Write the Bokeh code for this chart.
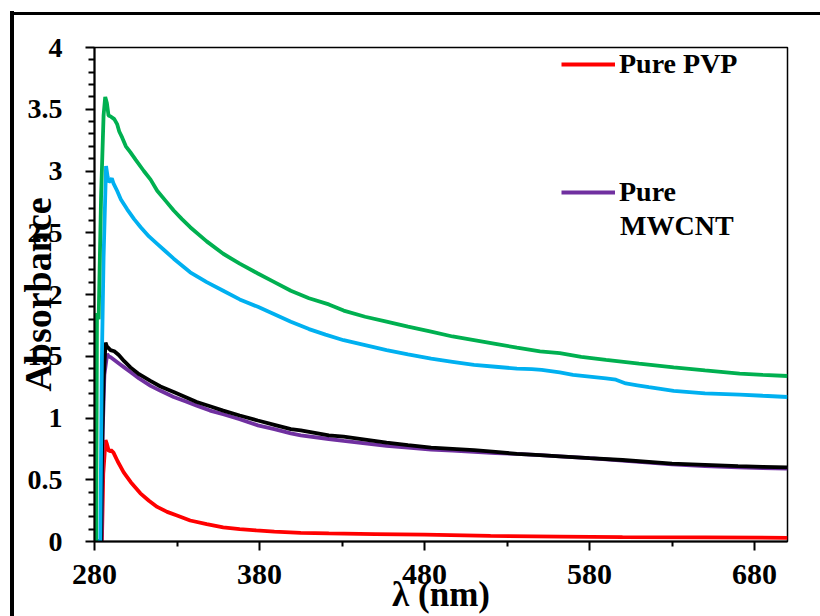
from bokeh.plotting import figure
from bokeh.models import Legend, LegendItem, Label, FixedTicker, Range1d
from bokeh.embed import file_html
from bokeh.resources import INLINE

# ---- data ----
pvp_x = [280, 284.5, 285.3, 286.7, 287.5, 288.7, 290, 291.5, 294, 297.7, 302, 307.8, 313, 318, 324, 330,
         338, 348, 358, 368, 378, 389, 405, 422, 450, 480, 520, 562, 600, 650, 700]
pvp_y = [0, 0, 0.55, 0.82, 0.79, 0.73, 0.74, 0.72, 0.65, 0.56, 0.48, 0.39, 0.33, 0.28, 0.24, 0.21,
         0.17, 0.14, 0.115, 0.10, 0.09, 0.08, 0.07, 0.065, 0.06, 0.055, 0.045, 0.04, 0.035, 0.033, 0.03]

mwcnt_x = [280, 284.3, 285, 286, 287.7, 288.5, 290, 292, 295, 298, 302, 307, 314, 320, 328, 335, 342,
           350, 358, 368, 379, 389, 399, 405, 422, 431, 444, 457, 470, 484, 497, 510, 523, 536, 550,
           562, 580, 600, 630, 650, 670, 685, 700]
mwcnt_y = [0, 0, 0.9, 1.35, 1.52, 1.50, 1.49, 1.47, 1.44, 1.41, 1.37, 1.32, 1.26, 1.22, 1.17, 1.135, 1.10,
           1.06, 1.03, 0.99, 0.94, 0.91, 0.875, 0.86, 0.83, 0.815, 0.795, 0.775, 0.76, 0.745, 0.735, 0.725,
           0.715, 0.71, 0.70, 0.69, 0.675, 0.655, 0.625, 0.61, 0.60, 0.595, 0.59]

black_x = [280, 284, 284.6, 285.5, 286.7, 287.5, 289.7, 292, 294.7, 298, 301.8, 307, 313.9, 320, 328, 335,
           342, 350, 358, 368, 379, 389, 399, 405, 422, 431, 444, 457, 470, 484, 497, 510, 523, 536, 550,
           562, 580, 600, 630, 650, 670, 685, 700]
black_y = [0, 0, 0.76, 1.3, 1.61, 1.58, 1.55, 1.54, 1.51, 1.46, 1.41, 1.355, 1.30, 1.255, 1.21, 1.17,
           1.13, 1.095, 1.06, 1.02, 0.98, 0.945, 0.91, 0.90, 0.86, 0.85, 0.825, 0.80, 0.78, 0.76, 0.75, 0.74,
           0.725, 0.71, 0.70, 0.69, 0.675, 0.66, 0.63, 0.62, 0.61, 0.605, 0.60]

blue_x = [280, 283.5, 284.5, 285.5, 287, 288, 288.7, 289.5, 290.5, 291.5, 293.7, 296, 299.8, 304, 308, 313,
          318, 323, 328, 333, 338, 348, 358, 368, 379, 389, 399, 410, 420, 431, 444, 457, 470, 484, 497,
          510, 523, 536, 545, 551, 562, 570, 580, 590, 596, 602, 609, 616, 631, 650, 671, 685, 700]
blue_y = [0, 0, 1.5, 2.3, 3.04, 2.95, 2.91, 2.92, 2.94, 2.9, 2.84, 2.77, 2.69, 2.61, 2.545, 2.47,
          2.41, 2.35, 2.29, 2.235, 2.18, 2.10, 2.03, 1.96, 1.90, 1.84, 1.78, 1.72, 1.675, 1.63, 1.59, 1.55,
          1.515, 1.48, 1.455, 1.43, 1.415, 1.40, 1.395, 1.39, 1.37, 1.35, 1.335, 1.32, 1.31, 1.28, 1.265,
          1.25, 1.22, 1.20, 1.19, 1.18, 1.17]

green_x = [280, 281, 281.5, 282.5, 284, 285.5, 286.5, 287.5, 288.5, 290, 292, 293.7, 295, 296.8, 299,
           301.8, 305, 309.9, 314, 318, 323, 328, 333, 338, 348, 358, 368, 379, 389, 399, 410, 422, 431,
           444, 457, 470, 484, 497, 510, 523, 536, 550, 562, 575, 590, 610, 631, 650, 671, 685, 700]
green_y = [0, 0, 1.85, 1.8, 2.8, 3.45, 3.6, 3.55, 3.45, 3.44, 3.42, 3.38, 3.32, 3.27, 3.2,
           3.15, 3.09, 3.00, 2.93, 2.84, 2.76, 2.68, 2.61, 2.545, 2.43, 2.33, 2.25, 2.17, 2.10, 2.03, 1.97,
           1.92, 1.87, 1.82, 1.78, 1.74, 1.70, 1.66, 1.63, 1.60, 1.57, 1.54, 1.525, 1.495, 1.47, 1.44, 1.41,
           1.385, 1.36, 1.35, 1.34]

x_ticks = [280, 380, 480, 580, 680]
x_minor = [330, 430, 530, 630]
y_ticks = [0, 0.5, 1, 1.5, 2, 2.5, 3, 3.5, 4]
y_tick_labels = ["0", "0.5", "1", "1.5", "2", "2.5", "3", "3.5", "4"]
y_minor = [i / 10 for i in range(0, 41) if i % 5 != 0]

FONT = "Liberation Serif"

p = figure(width=820, height=616, output_backend="svg", toolbar_location=None,
           x_range=Range1d(280, 700), y_range=Range1d(0, 4),
           min_border_left=94, min_border_right=33, min_border_top=47, min_border_bottom=75)
p.grid.visible = False
p.outline_line_color = "black"
p.outline_line_width = 1.5
p.background_fill_color = "white"
p.border_fill_alpha = 0
# outer chart-area frame (left and top edges visible in the window)
p.styles = {
    "background": "linear-gradient(#000, #000) 10px 11px / 4px 3000px no-repeat, "
                  "linear-gradient(#000, #000) 10px 12px / 3000px 3px no-repeat, #fff"
}

for ax in (p.xaxis[0], p.yaxis[0]):
    ax.axis_line_width = 2
    ax.axis_line_color = "black"
    ax.major_tick_line_width = 2
    ax.minor_tick_line_width = 2
    ax.major_tick_in = 0
    ax.minor_tick_in = 0
    ax.major_label_text_font = FONT
    ax.major_label_text_font_style = "bold"
    ax.major_label_text_color = "black"
    ax.axis_label_text_font = FONT
    ax.axis_label_text_font_style = "bold"
    ax.axis_label_text_color = "black"

p.xaxis.ticker = FixedTicker(ticks=x_ticks, minor_ticks=x_minor)
p.xaxis.major_tick_out = 9
p.xaxis.minor_tick_out = 5
p.xaxis.major_label_standoff = 14
p.xaxis.major_label_text_font_size = "30px"
p.xaxis.axis_label = "λ (nm)"
p.xaxis.axis_label_text_font_size = "35px"
p.xaxis.axis_label_standoff = -12

p.yaxis.ticker = FixedTicker(ticks=y_ticks, minor_ticks=y_minor)
p.yaxis.major_label_overrides = {t: l for t, l in zip(y_ticks, y_tick_labels)}
p.yaxis.major_tick_out = 9
p.yaxis.minor_tick_out = 6
p.yaxis.major_label_standoff = 23
p.yaxis.major_label_text_font_size = "28px"
p.yaxis.axis_label = "Absorbance"
p.yaxis.axis_label_text_font_size = "38px"
p.yaxis.axis_label_standoff = -34

LW = 3.8
r_pvp = p.line(pvp_x, pvp_y, line_color="#FF0000", line_width=LW)
r_mw = p.line(mwcnt_x, mwcnt_y, line_color="#7030A0", line_width=LW)
p.line(black_x, black_y, line_color="#000000", line_width=LW)
p.line(blue_x, blue_y, line_color="#00B0F0", line_width=LW)
p.line(green_x, green_y, line_color="#00B050", line_width=LW)

legend = Legend(items=[LegendItem(label="Pure PVP", renderers=[r_pvp]),
                       LegendItem(label="Pure", renderers=[r_mw])],
                location=(467, 333), orientation="vertical",
                border_line_alpha=0, background_fill_alpha=0,
                padding=0, margin=0, spacing=96,
                glyph_width=54, glyph_height=20, label_standoff=4,
                label_text_font=FONT, label_text_font_style="bold",
                label_text_font_size="28px", label_text_color="black")
p.add_layout(legend)
# second line of the "Pure MWCNT" legend entry
p.add_layout(Label(x=598.5, y=2.56, text="MWCNT", text_font=FONT, text_font_style="bold",
                   text_font_size="28px", text_color="black", text_baseline="middle",
                   text_align="left"))

open("out.html", "w").write(file_html(p, INLINE))
